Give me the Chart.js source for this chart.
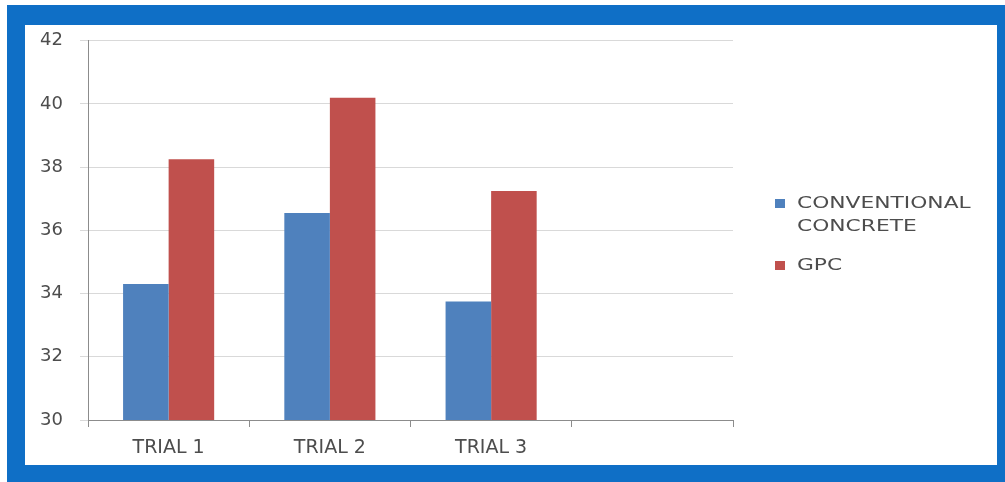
<!DOCTYPE html>
<html>
<head>
<meta charset="utf-8">
<script src="https://cdn.jsdelivr.net/npm/chart.js@4.4.1/dist/chart.umd.min.js"></script>
<style>
    html, body { margin: 0; padding: 0; background: #ffffff; }
    body { width: 1005px; height: 482px; position: relative; overflow: hidden; }
    #frame {
        position: absolute; left: 7px; top: 5px; width: 998px; height: 477px;
        background: #0F6FC6;
    }
    #inner {
        position: absolute; left: 25px; top: 25px; width: 972px; height: 440px;
        background: #ffffff;
    }
    #chart { position: absolute; left: 0; top: -12px; }
    #legend {
        position: absolute; left: 775px; top: 191px;
        font-family: "DejaVu Sans", sans-serif; font-size: 16px; color: #4d4d4d;
    }
    .item { position: relative; padding-left: 22px; line-height: 23px; margin-bottom: 16px; }
    .item .box { position: absolute; left: 0; top: 8px; width: 10px; height: 9px; }
    .item .txt { display: inline-block; transform: scaleX(1.36); transform-origin: left center; }
</style>
</head>
<body>
<div id="frame"></div>
<div id="inner">
    <canvas id="chart" width="972" height="452"></canvas>
</div>
<div id="legend"></div>
<script>
// Data
const categories = ['TRIAL 1', 'TRIAL 2', 'TRIAL 3', ''];
const conventionalValues = [34.3, 36.55, 33.75, null];
const gpcValues = [38.25, 40.2, 37.25, null];
const seriesNames = [['CONVENTIONAL', 'CONCRETE'], ['GPC']];
const yTicks = { min: 30, max: 42, step: 2 };

const colors = {
    blue: '#4F81BD',
    red: '#C0504D',
    grid: '#D9D9D9',
    axis: '#8C8C8C',
    text: '#4d4d4d'
};

const yFont = { family: '"DejaVu Sans", sans-serif', size: 18 };
const xFont = { family: '"DejaVu Sans", sans-serif', size: 19 };

const chart = new Chart(document.getElementById('chart'), {
    type: 'bar',
    data: {
        labels: categories,
        datasets: [
            {
                label: seriesNames[0].join(' '),
                data: conventionalValues,
                backgroundColor: colors.blue,
                borderWidth: 0,
                categoryPercentage: 0.565,
                barPercentage: 1
            },
            {
                label: seriesNames[1].join(' '),
                data: gpcValues,
                backgroundColor: colors.red,
                borderWidth: 0,
                categoryPercentage: 0.565,
                barPercentage: 1
            }
        ]
    },
    options: {
        responsive: false,
        animation: false,
        layout: { padding: { left: 0, top: 3, right: 264, bottom: 0 } },
        plugins: {
            legend: { display: false },
            tooltip: { enabled: false }
        },
        scales: {
            x: {
                grid: {
                    display: true,
                    drawOnChartArea: false,
                    offset: true,
                    tickLength: 7,
                    color: colors.axis
                },
                border: { color: colors.axis, width: 1 },
                ticks: { color: colors.text, font: xFont, padding: 10, maxRotation: 0 },
                afterFit(scale) { scale.height = 45; }
            },
            y: {
                min: yTicks.min,
                max: yTicks.max,
                grid: { color: colors.grid, tickLength: 8, lineWidth: 1 },
                border: { color: colors.axis, width: 1 },
                ticks: {
                    stepSize: yTicks.step,
                    color: colors.text,
                    font: yFont,
                    padding: 17
                },
                afterFit(scale) { scale.width = 63; }
            }
        }
    }
});

// HTML legend (allows the two-line label)
const legend = document.getElementById('legend');
chart.data.datasets.forEach((ds, i) => {
    const item = document.createElement('div');
    item.className = 'item';
    item.innerHTML = '<span class="box" style="background:' + ds.backgroundColor + '"></span>' +
        '<span class="txt">' + seriesNames[i].join('<br>') + '</span>';
    legend.appendChild(item);
});
</script>
</body>
</html>
